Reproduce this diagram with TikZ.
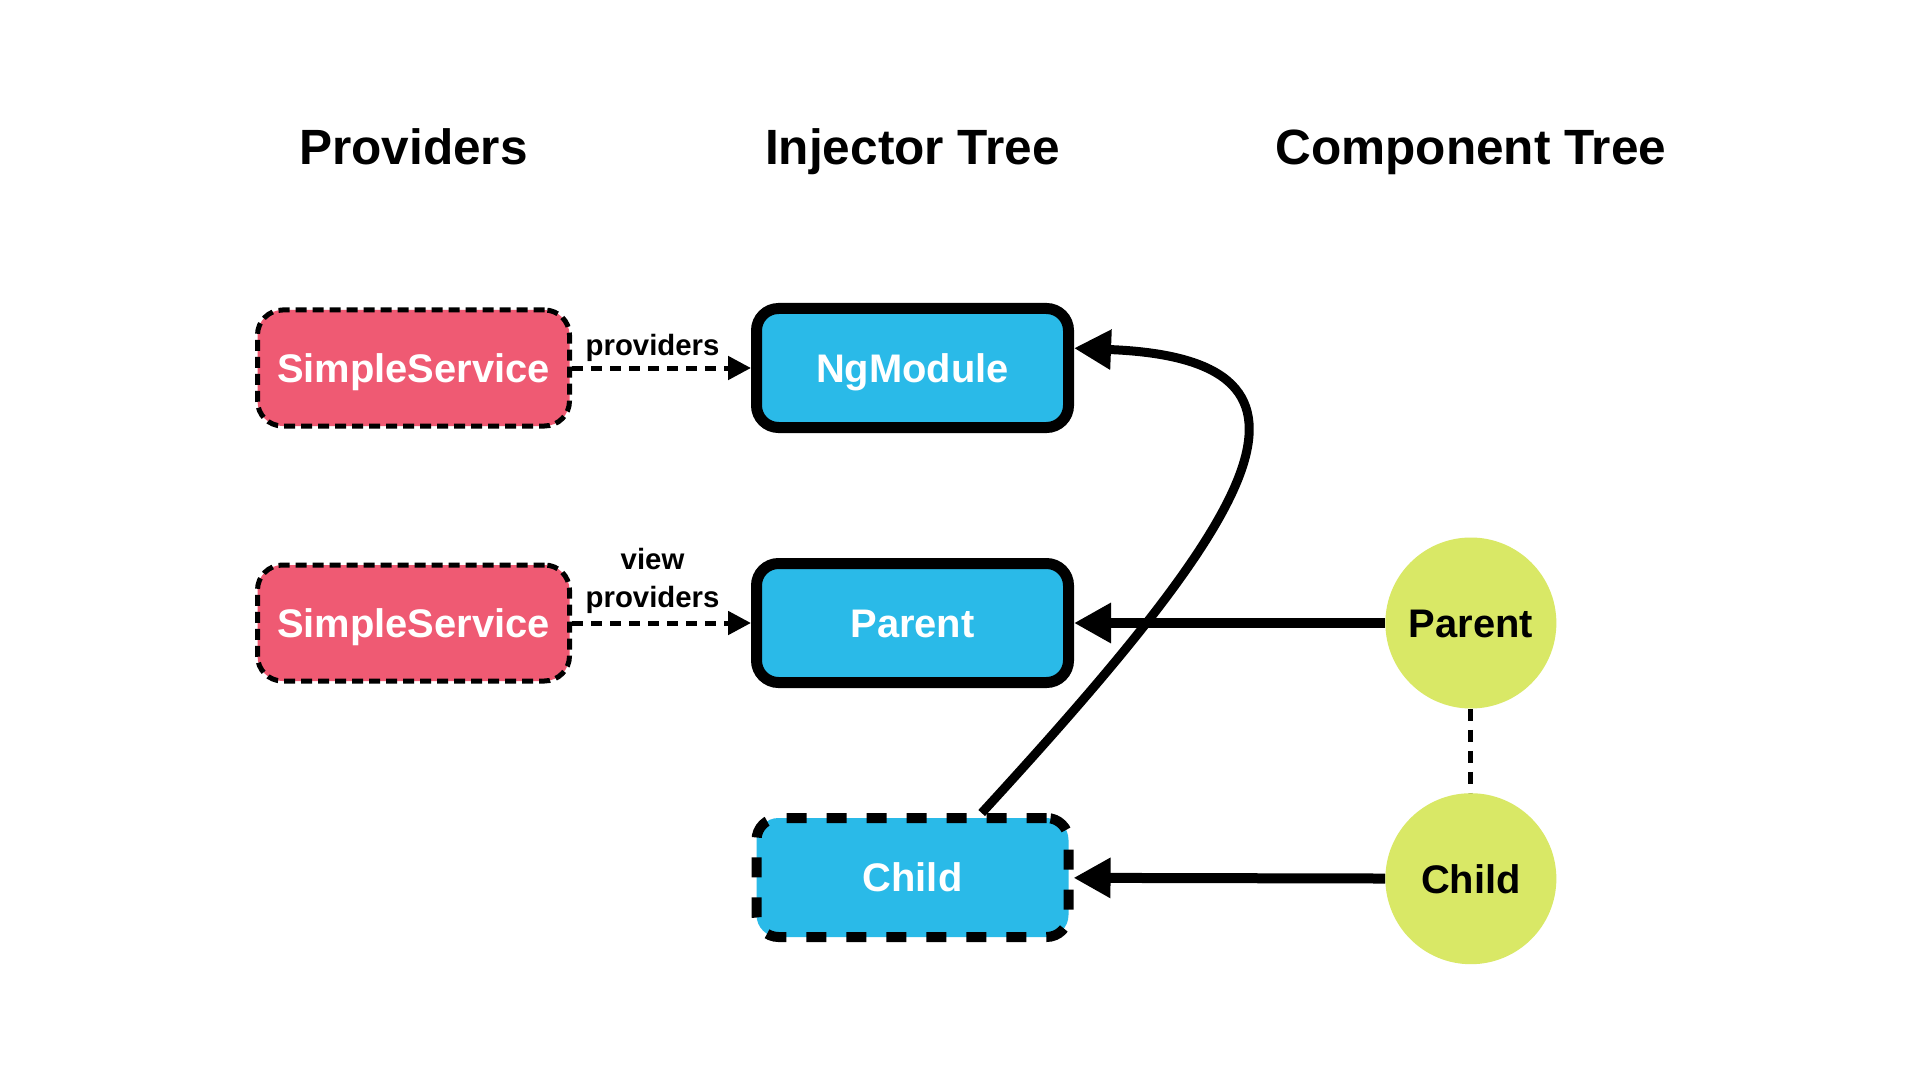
\documentclass[tikz,border=0pt]{standalone}
\usepackage{fontspec}
\setmainfont{Liberation Sans}
\usepackage{tikz}
\usetikzlibrary{calc}
\usetikzlibrary{shapes,arrows.meta,positioning,shapes.geometric}

\definecolor{svcred}{HTML}{EF5A73}
\definecolor{injblue}{HTML}{2ABAE8}
\definecolor{compgreen}{HTML}{D9E866}

\begin{document}
\begin{tikzpicture}[node distance=2.5cm, auto]
    % Define styles
    \tikzstyle{provider} = [rectangle, rounded corners=0.5cm, draw, line width=0.1cm, dash pattern=on 0.22cm off 0.12cm, fill=svcred, text=white, minimum width=6.24cm, minimum height=2.32cm, text height=16.3pt, text depth=0pt, font=\fontsize{22.7}{27}\selectfont\bfseries]
    \tikzstyle{injector} = [rectangle, rounded corners=0.44cm, draw, line width=0.22cm, fill=injblue, text=white, minimum width=6.24cm, minimum height=2.38cm, text height=16.3pt, text depth=0pt, font=\fontsize{22.7}{27}\selectfont\bfseries]
    \tikzstyle{childinj} = [injector, line width=0.2cm, dash pattern=on 0.4cm off 0.4cm]
    \tikzstyle{comp} = [circle, fill=compgreen, minimum size=3.42cm, inner sep=0pt, text height=16.3pt, text depth=0pt, font=\fontsize{22.7}{27}\selectfont\bfseries]
    \tikzstyle{header} = [anchor=base, font=\fontsize{28.2}{33}\selectfont\bfseries]
    \tikzstyle{lbl} = [align=center, inner sep=2pt, font=\fontsize{16.7}{21.6}\selectfont\bfseries]
    \tikzstyle{arrow} = [-{Triangle[length=0.74cm, width=0.76cm]}, line width=0.2cm]
    \tikzstyle{dasharrow} = [-{Triangle[length=0.46cm, width=0.46cm]}, line width=0.1cm, dash pattern=on 0.22cm off 0.16cm]

    % Page
    \fill[white] (0,0) rectangle (38.4,-21.6);
    \useasboundingbox (0,0) rectangle (38.4,-21.6);

    % Injector tree
    \node[injector] (ngmod) at (18.25,-7.36) {NgModule};
    \node[injector, below=of ngmod] (parentinj) {Parent};
    \node[childinj, below=of parentinj] (childbox) {Child};

    % Providers
    \node[provider, left=3.58cm of ngmod] (svc1) {SimpleService};
    \node[provider, left=3.58cm of parentinj] (svc2) {SimpleService};

    % Component tree
    \node[comp, right=6.22cm of parentinj] (parentcomp) {Parent};
    \node[comp, below=1.68cm of parentcomp] (childcomp) {Child};

    % Column titles
    \coordinate (hline) at (0,-3.3);
    \node[header] (hprov) at (svc1 |- hline) {Providers};
    \node[header] (hinj) at (ngmod |- hline) {Injector Tree};
    \node[header] (hcomp) at (parentcomp |- hline) {Component Tree};

    % Connections
    \draw[dasharrow] (svc1) -- node[lbl, above, pos=0.45] {providers} (ngmod);
    \draw[dasharrow] (svc2) -- node[lbl, above=2pt, pos=0.45] {view\\providers} (parentinj);
    \draw[arrow] (parentcomp) -- (parentinj);
    \draw[arrow] (childcomp) -- (childbox);
    \draw[line width=0.1cm, dash pattern=on 0.24cm off 0.18cm] (parentcomp) -- (childcomp);
    \draw[arrow, line width=0.18cm] (childbox.43) .. controls +(5.38,5.86) and +(5.68,-0.22) .. (ngmod.7);
\end{tikzpicture}
\end{document}
